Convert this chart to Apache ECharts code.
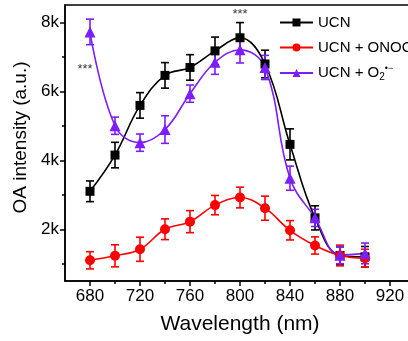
<!DOCTYPE html>
<html>
<head>
<meta charset="utf-8">
<script src="https://cdn.jsdelivr.net/npm/echarts@6/dist/echarts.min.js"></script>
<style>
  html, body { margin: 0; padding: 0; background: #fff; }
  #main { width: 408px; height: 341px; }
</style>
</head>
<body>
<div id="main"></div>
<script>
// wavelengths (nm)
const wavelengths = [680, 700, 720, 740, 760, 780, 800, 820, 840, 860, 880, 900];

// OA intensity
const ucn = [3100, 4150, 5590, 6460, 6690, 7170, 7550, 6790, 4460, 2330, 1240, 1200];
const ucnErr = [300, 370, 370, 370, 370, 400, 440, 400, 450, 350, 250, 300];

const ucnOnoo = [1100, 1230, 1420, 2000, 2220, 2700, 2920, 2610, 1970, 1530, 1240, 1160];
const ucnOnooErr = [250, 320, 350, 300, 320, 280, 300, 350, 280, 250, 300, 260];

const ucnO2 = [7720, 5000, 4510, 4890, 5930, 6840, 7200, 6690, 3480, 2330, 1250, 1300];
const ucnO2Err = [370, 250, 250, 400, 250, 350, 380, 350, 350, 250, 250, 300];

const xLabels = [680, 720, 760, 800, 840, 880, 920];
const xMinor = [700, 740, 780, 820, 860, 900];
const yLabels = [2000, 4000, 6000, 8000];
const yMinor = [1000, 3000, 5000, 7000];

// "***" significance marks
const stars = [[800, 8230], [676, 6640]];

const chart = echarts.init(document.getElementById('main'));
const font = 'Arial, "Liberation Sans", sans-serif';

function pairs(vals) {
    return wavelengths.map((w, i) => [w, vals[i]]);
}

function errData(vals, errs) {
    return wavelengths.map((w, i) => [w, vals[i] - errs[i], vals[i] + errs[i]]);
}

function errSeries(vals, errs, color) {
    return {
        type: 'custom',
        data: errData(vals, errs),
        encode: {x: 0, y: [1, 2]},
        silent: true,
        renderItem: function (params, api) {
            const x = api.value(0);
            const lo = api.coord([x, api.value(1)]);
            const hi = api.coord([x, api.value(2)]);
            const w = 4;
            const st = {stroke: color, lineWidth: 1.6};
            return {
                type: 'group',
                children: [
                    {type: 'line', shape: {x1: lo[0], y1: lo[1], x2: hi[0], y2: hi[1]}, style: st},
                    {type: 'line', shape: {x1: lo[0] - w, y1: lo[1], x2: lo[0] + w, y2: lo[1]}, style: st},
                    {type: 'line', shape: {x1: hi[0] - w, y1: hi[1], x2: hi[0] + w, y2: hi[1]}, style: st}
                ]
            };
        }
    };
}

function lineSeries(name, vals, color, symbol, size) {
    return {
        name: name,
        type: 'line',
        data: pairs(vals),
        smooth: 0.4,
        symbol: symbol,
        symbolSize: size,
        showSymbol: true,
        lineStyle: {color: color, width: 1.6},
        itemStyle: {color: color},
        z: 3
    };
}

const rich = {
    sup: {fontSize: 9, verticalAlign: 'top', padding: [0, 0, 8, 0], fontFamily: font, color: '#000'},
    sub: {fontSize: 10, padding: [8, 0, 0, 0], fontFamily: font, color: '#000'}
};

chart.setOption({
    backgroundColor: '#fff',
    animation: false,
    grid: {
        left: 65, top: 5, width: 350, height: 276,
        outerBoundsMode: 'none', containLabel: false,
        show: true, borderColor: '#000', borderWidth: 1.5, backgroundColor: 'transparent'
    },
    legend: {
        orient: 'vertical',
        left: 279, top: 15, padding: 0,
        itemWidth: 33, itemHeight: 10, itemGap: 9,
        data: ['UCN', 'UCN + ONOO', 'UCN + O2'],
        textStyle: {fontSize: 15, fontFamily: font, color: '#000', rich: rich},
        formatter: function (name) {
            if (name === 'UCN + ONOO') return 'UCN + ONOO{sup|−}';
            if (name === 'UCN + O2') return 'UCN + O{sub|2}{sup|•−}';
            return name;
        }
    },
    xAxis: [{
        type: 'value', min: 660, max: 940,
        name: 'Wavelength (nm)', nameLocation: 'middle', nameGap: 33,
        nameTextStyle: {fontSize: 21, fontFamily: font, color: '#000'},
        axisLine: {show: true, onZero: false, lineStyle: {color: '#000', width: 1.5}},
        axisTick: {show: true, length: 5, customValues: xLabels, lineStyle: {color: '#000', width: 1.5}},
        axisLabel: {customValues: xLabels, fontSize: 17, fontFamily: font, color: '#000', margin: 7},
        splitLine: {show: false}
    }, {
        type: 'value', min: 660, max: 940, position: 'bottom',
        axisLine: {show: false},
        axisTick: {show: true, length: 3, customValues: xMinor, lineStyle: {color: '#000', width: 1.5}},
        axisLabel: {show: false},
        splitLine: {show: false}
    }],
    yAxis: [{
        type: 'value', min: 500, max: 8500,
        name: 'OA intensity (a.u.)', nameLocation: 'middle', nameGap: 35,
        nameTextStyle: {fontSize: 19, fontFamily: font, color: '#000', padding: [0, 0, 0, 11]},
        axisLine: {show: true, onZero: false, lineStyle: {color: '#000', width: 1.5}},
        axisTick: {show: true, length: 5, customValues: yLabels, lineStyle: {color: '#000', width: 1.5}},
        axisLabel: {
            customValues: yLabels, fontSize: 17, fontFamily: font, color: '#000', margin: 6,
            formatter: v => (v / 1000) + 'k'
        },
        splitLine: {show: false}
    }, {
        type: 'value', min: 500, max: 8500, position: 'left',
        axisLine: {show: false},
        axisTick: {show: true, length: 3, customValues: yMinor, lineStyle: {color: '#000', width: 1.5}},
        axisLabel: {show: false},
        splitLine: {show: false}
    }],
    series: [
        errSeries(ucn, ucnErr, '#000000'),
        lineSeries('UCN', ucn, '#000000', 'rect', 9),
        errSeries(ucnOnoo, ucnOnooErr, '#ff0000'),
        lineSeries('UCN + ONOO', ucnOnoo, '#ff0000', 'circle', 10),
        errSeries(ucnO2, ucnO2Err, '#7d1dfa'),
        lineSeries('UCN + O2', ucnO2, '#7d1dfa', 'triangle', 11),
        {
            type: 'scatter',
            data: stars,
            symbolSize: 0,
            silent: true,
            label: {
                show: true, position: 'inside', formatter: '***',
                fontSize: 13, fontFamily: font, color: '#000'
            }
        }
    ]
});
</script>
</body>
</html>
